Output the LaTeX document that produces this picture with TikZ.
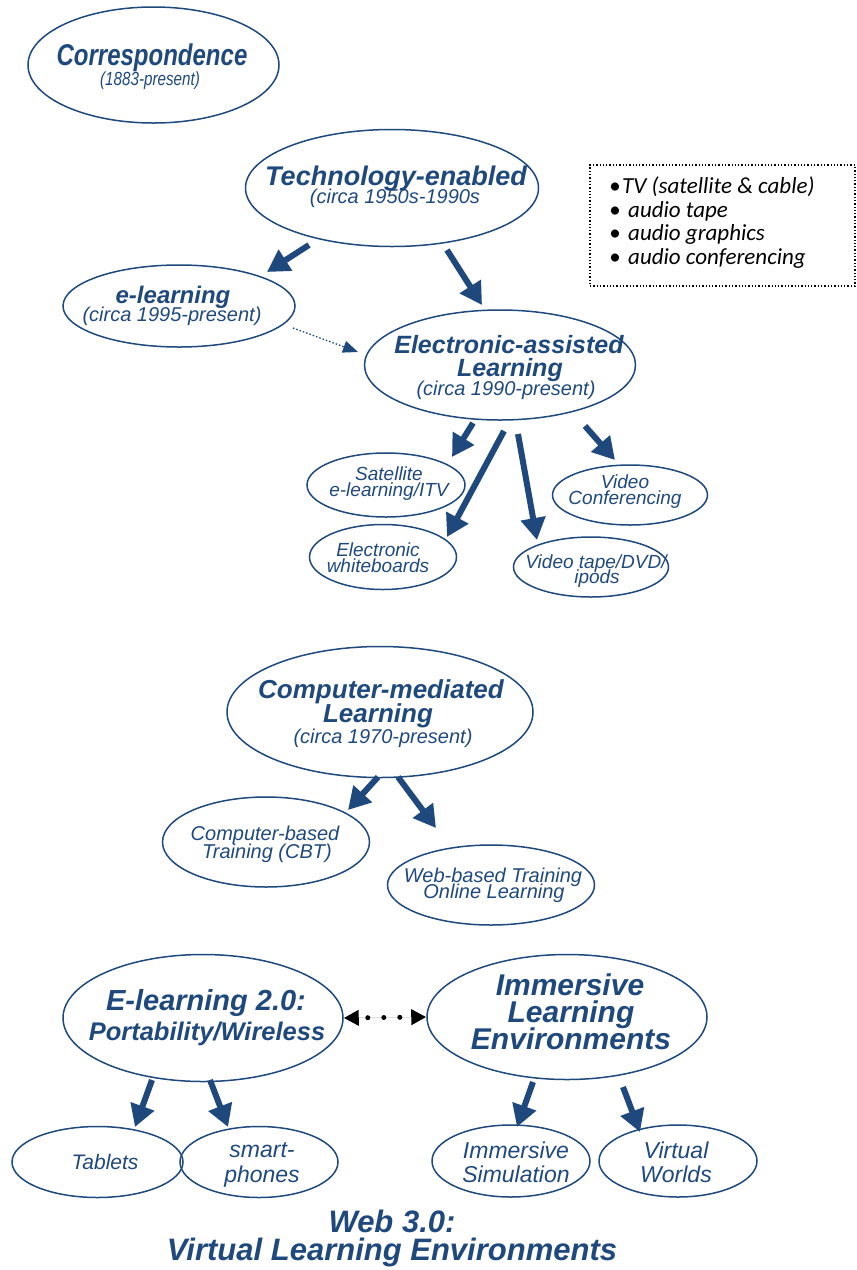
\documentclass[tikz,border=0pt]{standalone}
\usepackage{fontspec}
\setmainfont{Liberation Sans}
\newfontfamily\condfont[FakeStretch=0.8]{Liberation Sans}
\newfontfamily\calfont{Carlito}
\usetikzlibrary{shapes.geometric,arrows.meta}
\definecolor{dblue}{RGB}{31,73,125}
\newcommand\fbi[1]{\bfseries\itshape\fontsize{#1}{#1}\selectfont}
\newcommand\fit[1]{\itshape\fontsize{#1}{#1}\selectfont}
\begin{document}
\begin{tikzpicture}[x=1pt,y=-1pt,
  ell/.style={ellipse, draw=dblue, line width=1.5pt, inner sep=0pt},
  lab/.style={anchor=base, text=dblue, inner sep=0pt, outer sep=0pt},
  boxtxt/.style={anchor=base west, text=black, inner sep=0pt, font=\calfont\itshape\fontsize{23}{23}\selectfont},
  bigarrow/.style={draw=dblue, line width=6pt, -{Triangle[length=22pt,width=24pt]}},
  thinarrow/.style={draw=dblue, line width=1.3pt, dash pattern=on 1.5pt off 2pt, -{Triangle[length=15pt,width=12pt]}},
  dblarrow/.style={draw=black, fill=black, line width=5pt, line cap=round, dash pattern=on 0pt off 16pt, dash phase=6pt, {Triangle[length=15pt,width=15pt]}-{Triangle[length=15pt,width=15pt]}}
]
\useasboundingbox (0,0) rectangle (857,1270);

% ellipses
\node[ell, minimum width=251pt, minimum height=116pt] (corr) at (153.5,65) {};
\node[ell, minimum width=293pt, minimum height=117pt] (tech) at (392,188) {};
\node[ell, minimum width=232pt, minimum height=82pt] (elearn) at (179,306) {};
\node[ell, minimum width=271pt, minimum height=110pt] (elec) at (500,365) {};
\node[ell, minimum width=158pt, minimum height=64pt] (sat) at (386,485) {};
\node[ell, minimum width=147pt, minimum height=65pt] (wb) at (383,557) {};
\node[ell, minimum width=155pt, minimum height=60pt] (vt) at (591,567) {};
\node[ell, minimum width=155pt, minimum height=60pt] (vc) at (630,495) {};
\node[ell, minimum width=306pt, minimum height=131pt] (cm) at (380,712) {};
\node[ell, minimum width=207pt, minimum height=90pt] (cbt) at (266,842) {};
\node[ell, minimum width=207pt, minimum height=80pt] (wbt) at (491,885) {};
\node[ell, minimum width=280pt, minimum height=127pt] (e2) at (203,1018) {};
\node[ell, minimum width=280pt, minimum height=125pt] (ile) at (567,1017) {};
\node[ell, minimum width=171pt, minimum height=71pt] (tab) at (97.5,1162) {};
\node[ell, minimum width=158pt, minimum height=71pt] (sp) at (259,1162) {};
\node[ell, minimum width=158pt, minimum height=72pt] (isim) at (511,1161) {};
\node[ell, minimum width=158pt, minimum height=72pt] (vw) at (678,1161) {};

% texts
\node[lab, font=\condfont\fbi{30}] (t1) at (152,65) {Correspondence};
\node[lab, font=\condfont\fit{19}] (t2) at (150,85) {(1883-present)};
\node[lab, font=\fbi{27}] (t3) at (396,185) {Technology-enabled};
\node[lab, font=\fit{20}] (t4) at (395,203) {(circa 1950s-1990s};
\node[lab, font=\fbi{24}] (t5) at (173,303) {e-learning};
\node[lab, font=\fit{20}] (t6) at (172,321) {(circa 1995-present)};
\node[lab, font=\fbi{25}] (t7) at (509,353) {Electronic-assisted};
\node[lab, font=\fbi{25}] (t8) at (510,376) {Learning};
\node[lab, font=\fit{20}] (t9) at (506,395) {(circa 1990-present)};
\node[lab, font=\fit{19}] (t10) at (389,480) {Satellite};
\node[lab, font=\fit{19}] (t11) at (389,496) {e-learning/ITV};
\node[lab, font=\fit{19}] (t12) at (378,556) {Electronic};
\node[lab, font=\fit{19}] (t13) at (378,572) {whiteboards};
\node[lab, font=\fit{19}] (t14) at (596,568) {Video tape/DVD/};
\node[lab, font=\fit{19}] (t15) at (597,583) {ipods};
\node[lab, font=\fit{19}] (t16) at (625,488) {Video};
\node[lab, font=\fit{19}] (t17) at (625,504) {Conferencing};
\node[lab, font=\fbi{26}] (t18) at (381,698) {Computer-mediated};
\node[lab, font=\fbi{26}] (t19) at (378,722) {Learning};
\node[lab, font=\fit{20}] (t20) at (383,743) {(circa 1970-present)};
\node[lab, font=\fit{20}] (t21) at (265,840) {Computer-based};
\node[lab, font=\fit{20}] (t22) at (267,858) {Training (CBT)};
\node[lab, font=\fit{20}] (t23) at (493,882) {Web-based Training};
\node[lab, font=\fit{20}] (t24) at (494,898) {Online Learning};
\node[lab, font=\fbi{29}] (t25) at (206,1010) {E-learning 2.0:};
\node[lab, font=\fbi{25.5}] (t26) at (207,1040) {Portability/Wireless};
\node[lab, font=\fbi{30}] (t27) at (570,995) {Immersive};
\node[lab, font=\fbi{30}] (t28) at (571,1022) {Learning};
\node[lab, font=\fbi{30}] (t29) at (571,1049) {Environments};
\node[lab, font=\fit{21}] (t30) at (105,1169) {Tablets};
\node[lab, font=\fit{23}] (t31) at (262,1157) {smart-};
\node[lab, font=\fit{23}] (t32) at (262,1182) {phones};
\node[lab, font=\fit{23}] (t33) at (516,1158) {Immersive};
\node[lab, font=\fit{23}] (t34) at (516,1182) {Simulation};
\node[lab, font=\fit{23}] (t35) at (676,1158) {Virtual};
\node[lab, font=\fit{23}] (t36) at (676,1182) {Worlds};
\node[lab, font=\fbi{31}] (t37) at (392,1232) {Web 3.0:};
\node[lab, font=\fbi{31}] (t38) at (392,1260) {Virtual Learning Environments};

% dotted box
\node[draw=black, line width=1.3pt, dotted, inner sep=0pt, minimum width=265pt, minimum height=121pt] (box) at (722.5,225.5) {};
\node[boxtxt] (b1) at (609,193) {•};
\node[boxtxt] (b2) at (609,217) {•};
\node[boxtxt] (b3) at (609,240) {•};
\node[boxtxt] (b4) at (609,264) {•};
\node[boxtxt] (bt1) at (622,193) {TV (satellite \& cable)};
\node[boxtxt] (bt2) at (628,217) {audio tape};
\node[boxtxt] (bt3) at (628,240) {audio graphics};
\node[boxtxt] (bt4) at (628,264) {audio conferencing};

% arrow ends
\coordinate (a1s) at (309,245); \coordinate (a1e) at (267,272);
\coordinate (a2s) at (447,250); \coordinate (a2e) at (482,305);
\coordinate (a3s) at (293,328); \coordinate (a3e) at (358,352);
\coordinate (a4s) at (473,423); \coordinate (a4e) at (452,457);
\coordinate (a5s) at (504,431); \coordinate (a5e) at (447,537);
\coordinate (a6s) at (518,434); \coordinate (a6e) at (537,540);
\coordinate (a7s) at (585,426); \coordinate (a7e) at (615,460);
\coordinate (a8s) at (378,777); \coordinate (a8e) at (348,810);
\coordinate (a9s) at (398,777); \coordinate (a9e) at (436,828);
\coordinate (a10s) at (152,1080); \coordinate (a10e) at (135,1127);
\coordinate (a11s) at (210,1080); \coordinate (a11e) at (228,1127);
\coordinate (a12s) at (533,1082); \coordinate (a12e) at (517,1127);
\coordinate (a13s) at (623,1087); \coordinate (a13e) at (640,1132);

\draw[bigarrow] (a1s) -- (a1e);
\draw[bigarrow] (a2s) -- (a2e);
\draw[thinarrow] (a3s) -- (a3e);
\draw[bigarrow] (a4s) -- (a4e);
\draw[bigarrow] (a5s) -- (a5e);
\draw[bigarrow] (a6s) -- (a6e);
\draw[bigarrow] (a7s) -- (a7e);
\draw[bigarrow] (a8s) -- (a8e);
\draw[bigarrow] (a9s) -- (a9e);
\draw[bigarrow] (a10s) -- (a10e);
\draw[bigarrow] (a11s) -- (a11e);
\draw[bigarrow] (a12s) -- (a12e);
\draw[bigarrow] (a13s) -- (a13e);
\draw[dblarrow] (e2.east) -- (ile.west);
\end{tikzpicture}
\end{document}
